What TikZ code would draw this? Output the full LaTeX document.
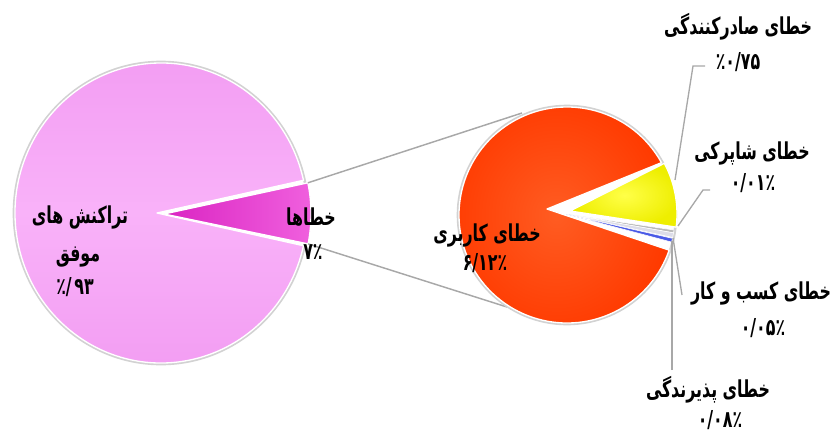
\documentclass[tikz,border=0pt]{standalone}
\usepackage{fontspec}
\usepackage{graphicx}
\newfontfamily\fa[Script=Arabic]{DejaVu Sans}
\TeXXeTstate=1
\definecolor{pinkA}{HTML}{F9B2F9}
\definecolor{pinkB}{HTML}{F29CF2}
\definecolor{magA}{HTML}{F060DE}
\definecolor{magB}{HTML}{DA24C2}
\definecolor{redA}{HTML}{FF5C22}
\definecolor{redB}{HTML}{FF3A00}
\definecolor{yelA}{HTML}{FFFF48}
\definecolor{yelB}{HTML}{EEEE00}
\definecolor{lineG}{HTML}{A8A8A8}
\definecolor{lightS}{HTML}{DCDCE8}
\definecolor{blueS}{HTML}{4A5AE6}
\newcommand\fsz{\fontsize{12.5}{14}\selectfont}
\newcommand\ft[1]{\scalebox{0.95}[1.4]{#1}}
\tikzset{
  slice/.style={draw=white, line width=1pt, line join=round},
  halo/.style={draw=gray!35, line width=2pt},
  leader/.style={draw=lineG, line width=1pt},
  conn/.style={draw=lineG, line width=1.1pt},
  lbl/.style={font=\fa\bfseries\fsz, inner sep=0pt, anchor=center, text=black},
}
\begin{document}
\begin{tikzpicture}[x=0.75pt,y=-0.75pt]
\useasboundingbox (0,0) rectangle (834,436);
% ---------- left pie ----------
\coordinate (pc) at (161,213);
\coordinate (pa) at (157,213);
\coordinate (mc) at (167,214);
\coordinate (ma) at (164,214);
\draw[halo] (pc) ellipse[x radius=147, y radius=151];
\shade[slice, top color=pinkB, bottom color=pinkB, middle color=pinkA]
  (pa) -- ([shift={(161,213)}]-12.6:146 and 150)
  arc[start angle=-12.6, end angle=-347.4, x radius=146, y radius=150] -- cycle;
\shade[slice, left color=magB, right color=magA]
  (ma) -- ([shift={(167,214)}]11.5:144 and 150)
  arc[start angle=11.5, end angle=-12, x radius=144, y radius=150] -- cycle;
\coordinate (mtop) at ([shift={(167,214)}]-12:144 and 150);
\coordinate (mbot) at ([shift={(167,214)}]11.5:144 and 150);
% ---------- right pie ----------
\coordinate (rc) at (567,215);
\coordinate (ra) at (547,209);
\coordinate (rtop) at (522,113);
\coordinate (rbot) at (507,307);
\draw[conn] (mtop) -- (rtop);
\draw[conn] (mbot) -- (rbot);
\draw[halo] (rc) circle[radius=109];
\shade[slice, inner color=redA, outer color=redB]
  (ra) -- ([shift={(567,215)}]-29:108)
  arc[start angle=-29, end angle=-341, radius=108] -- cycle;
\shade[slice, inner color=yelA, outer color=yelB]
  (570,211) -- ([shift={(569,214)}]7:108)
  arc[start angle=7, end angle=-28, radius=108] -- cycle;
\fill[gray!55, draw=white, line width=0.4pt]
  (566,214) -- ([shift={(567,215)}]9.5:108)
  arc[start angle=9.5, end angle=8, radius=108] -- cycle;
\fill[lightS, draw=white, line width=0.4pt]
  (566,214) -- ([shift={(567,215)}]12:108)
  arc[start angle=12, end angle=9.5, radius=108] -- cycle;
\fill[blueS, draw=white, line width=0.4pt]
  (566,214) -- ([shift={(567,215)}]14.5:108)
  arc[start angle=14.5, end angle=12.5, radius=108] -- cycle;
% ---------- leaders ----------
\coordinate (e1) at (675,180);
\coordinate (e2) at (678,226);
\coordinate (e3) at (673,238);
\coordinate (e4) at (672,241);
\coordinate (s1) at (705,66);
\coordinate (s2) at (710,190);
\coordinate (s3) at (682,295);
\coordinate (s4) at (672,370);
\draw[leader] (s1) -- (693,66) -- (e1);
\draw[leader] (s2) -- (703,190) -- (e2);
\draw[leader] (s3) -- (e3);
\draw[leader] (s4) -- (e4);
% ---------- labels ----------
\node[lbl] (t1) at (738,27) {\ft{\beginR خطای صادرکنندگی\endR}};
\node[lbl] (p1) at (738,62) {\ft{٪۰/۷۵}};
\node[lbl] (t2) at (752,153) {\ft{\beginR خطای شاپرکی\endR}};
\node[lbl] (p2) at (753,183) {\ft{۰/۰۱٪}};
\node[lbl] (t3) at (761,293) {\ft{\beginR خطای کسب و کار\endR}};
\node[lbl] (p3) at (763,328) {\ft{۰/۰۵٪}};
\node[lbl] (t4) at (708,390) {\ft{\beginR خطای پذیرندگی\endR}};
\node[lbl] (p4) at (720,420) {\ft{۰/۰۸٪}};
\node[lbl] (t5) at (487,235) {\ft{\beginR خطای کاربری\endR}};
\node[lbl] (p5) at (485,263) {\ft{۶/۱۲٪}};
\node[lbl] (t6) at (80,217) {\ft{\beginR تراکنش های\endR}};
\node[lbl] (t6b) at (78,257) {\ft{\beginR موفق\endR}};
\node[lbl] (p6) at (75,287) {\ft{\mbox{٪}\mbox{/}\,\mbox{۹۳}}};
\node[lbl] (t7) at (311,217) {\ft{\beginR خطاها\endR}};
\node[lbl] (p7) at (313,252) {\ft{۷٪}};
\end{tikzpicture}
\end{document}
